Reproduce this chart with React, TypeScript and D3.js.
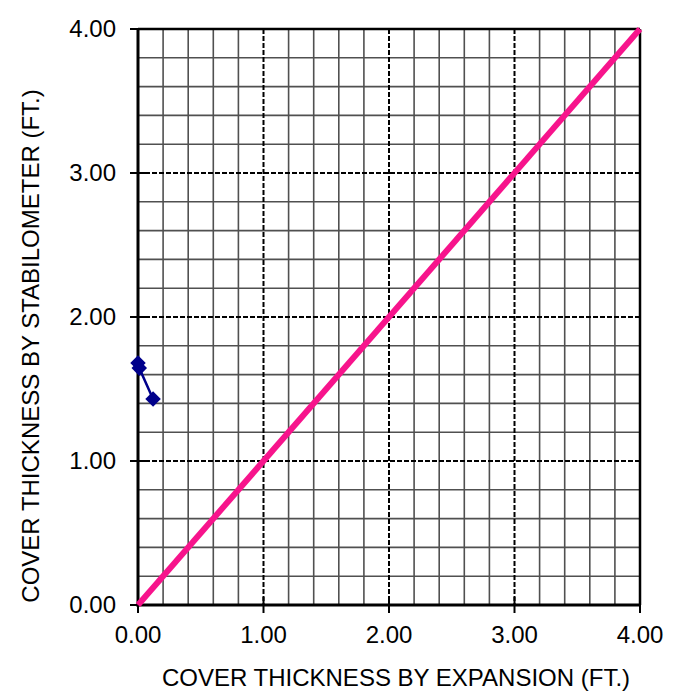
import React from "react";
import * as d3 from "d3";

const xTicks = [0, 1, 2, 3, 4];
const yTicks = [0, 1, 2, 3, 4];
const tickLabels = ["0.00", "1.00", "2.00", "3.00", "4.00"];
const dataX = [0.0, 0.01, 0.12];
const dataY = [1.68, 1.645, 1.43];
const equalityLine = [0, 4];
const xTitle = "COVER THICKNESS BY EXPANSION (FT.)";
const yTitle = "COVER THICKNESS BY STABILOMETER (FT.)";

const W = 678, H = 698;
const L = 138, R = 640, T = 29, B = 605;
const FONT = "'Liberation Sans', Arial, sans-serif";

export default function App() {
  const x = d3.scaleLinear().domain([0, 4]).range([L, R]);
  const y = d3.scaleLinear().domain([0, 4]).range([B, T]);
  const minor = d3.range(0, 4.0001, 0.2).filter((v) => Math.abs(v - Math.round(v)) > 1e-6);
  const pts = dataX.map((v, i) => [x(v), y(dataY[i])] as [number, number]);
  const line = d3.line();
  return (
    <svg width={W} height={H} style={{ position: "absolute", left: 0, top: 0 }}>
      <rect x={0} y={0} width={W} height={H} fill="#fff" />
      {minor.map((v, i) => (
        <g key={"m" + i}>
          <line x1={x(v)} x2={x(v)} y1={T} y2={B} stroke="#505050" strokeWidth={1.6} />
          <line x1={L} x2={R} y1={y(v)} y2={y(v)} stroke="#505050" strokeWidth={1.6} />
        </g>
      ))}
      {xTicks.slice(1, -1).map((v, i) => (
        <line key={"vx" + i} x1={x(v)} x2={x(v)} y1={T} y2={B} stroke="#000" strokeWidth={2} strokeDasharray="5,2" />
      ))}
      {yTicks.slice(1, -1).map((v, i) => (
        <line key={"hy" + i} x1={L} x2={R} y1={y(v)} y2={y(v)} stroke="#000" strokeWidth={2} strokeDasharray="5,2" />
      ))}
      <line x1={L} x2={R} y1={T} y2={T} stroke="#000" strokeWidth={2.5} />
      <line x1={R} x2={R} y1={T} y2={B} stroke="#000" strokeWidth={2.5} />
      <line x1={L} x2={L} y1={T} y2={B + 1.5} stroke="#000" strokeWidth={3} />
      <line x1={L - 1.5} x2={R} y1={B} y2={B} stroke="#000" strokeWidth={3} />
      {yTicks.map((v, i) => (
        <line key={"yt" + i} x1={L - 8} x2={L + 8} y1={y(v)} y2={y(v)} stroke="#000" strokeWidth={2} />
      ))}
      {xTicks.map((v, i) => (
        <line key={"xt" + i} x1={x(v)} x2={x(v)} y1={B - 8} y2={B + 8} stroke="#000" strokeWidth={2} />
      ))}
      <path
        d={line(equalityLine.map((v) => [x(v), y(v)] as [number, number])) || ""}
        stroke="#F7148C"
        strokeWidth={6}
        fill="none"
      />
      <path d={line(pts) || ""} stroke="#00008B" strokeWidth={2.5} fill="none" />
      {pts.map((p, i) => (
        <rect key={"p" + i} x={-5.5} y={-5.5} width={11} height={11} fill="#00008B"
          transform={`translate(${p[0]},${p[1]}) rotate(45)`} />
      ))}
      {yTicks.map((v, i) => (
        <text key={"yl" + i} x={116} y={y(v)} dy="0.35em" textAnchor="end" fontFamily={FONT} fontSize={24} fill="#000">
          {tickLabels[i]}
        </text>
      ))}
      {xTicks.map((v, i) => (
        <text key={"xl" + i} x={x(v)} y={643} textAnchor="middle" fontFamily={FONT} fontSize={24} fill="#000">
          {tickLabels[i]}
        </text>
      ))}
      <text x={396} y={686} textAnchor="middle" fontFamily={FONT} fontSize={24} fill="#000">{xTitle}</text>
      <text transform={`translate(39,346) rotate(-90)`} textAnchor="middle" fontFamily={FONT} fontSize={24} fill="#000">{yTitle}</text>
    </svg>
  );
}
